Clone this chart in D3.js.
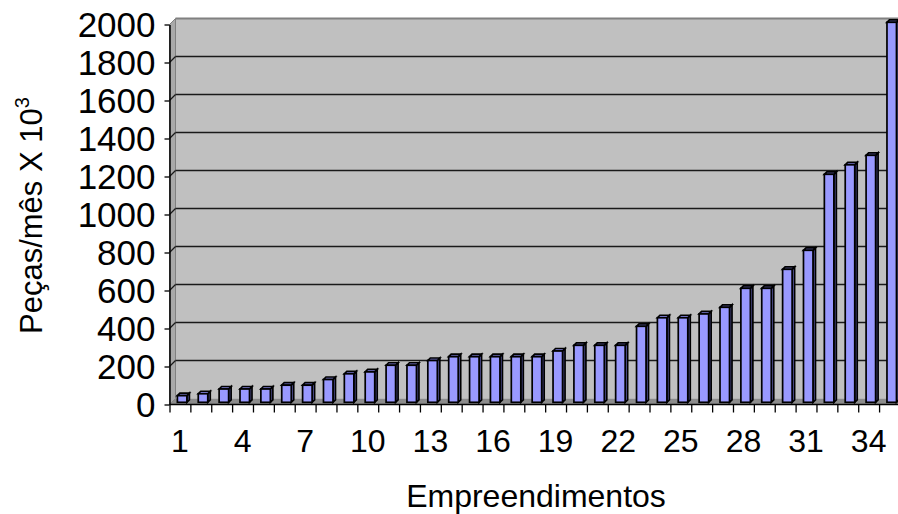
<!DOCTYPE html>
<html>
<head>
<meta charset="utf-8">
<script src="https://cdn.jsdelivr.net/npm/d3@7"></script>
<style>
  body { margin: 0; background: #fff; }
  svg { display: block; }
  text { font-family: "Liberation Sans", Arial, sans-serif; fill: #000; }
</style>
</head>
<body>
<svg id="chart" width="898" height="514"></svg>
<script>
// Monthly output per project (thousands of pieces)
const categories = ["1","2","3","4","5","6","7","8","9","10","11","12","13","14","15","16","17","18",
                    "19","20","21","22","23","24","25","26","27","28","29","30","31","32","33","34","35"];
const values = [35, 45, 70, 70, 70, 90, 90, 120, 150, 160, 195, 195, 220, 240, 240, 240, 240, 240,
                270, 300, 300, 300, 400, 445, 445, 465, 500, 600, 600, 700, 800, 1200, 1250, 1300, 2000];
const yTicks = [0, 200, 400, 600, 800, 1000, 1200, 1400, 1600, 1800, 2000];
const xTickLabels = ["1","4","7","10","13","16","19","22","25","28","31","34"];

(function drawChart() {
  const W = 898;
  const plotLeft = 169.5, plotFloor = 404.5, plotTop = 24.5;
  const step = 20.87;
  const plotRight = plotLeft + categories.length * step;
  const wallD = 6;     // depth of the 3D walls
  const barOff = 2.2;  // bars sit a little behind the front plane
  const barD = 2.5;    // depth of each bar
  const barW = 9.5;

  const svg = d3.select("#chart");

  const x = d3.scaleBand().domain(categories).range([plotLeft, plotRight]).paddingInner(0).paddingOuter(0);
  const y = d3.scaleLinear().domain([0, 2000]).range([plotFloor, plotTop]);
  const xb = d3.scaleLinear().domain([0, categories.length]).range([plotLeft, plotRight]);

  // back wall
  svg.append("rect")
    .attr("x", plotLeft + wallD).attr("y", y(2000) - wallD)
    .attr("width", W - (plotLeft + wallD)).attr("height", plotFloor - plotTop)
    .attr("fill", "#c0c0c0");

  // left wall
  svg.append("polygon")
    .attr("points", [[plotLeft, plotFloor], [plotLeft, y(2000)], [plotLeft + wallD, y(2000) - wallD], [plotLeft + wallD, plotFloor - wallD]].join(" "))
    .attr("fill", "#a9a9a9").attr("stroke", "#808080").attr("stroke-width", 1);

  // floor
  svg.append("polygon")
    .attr("points", [[plotLeft, plotFloor], [plotLeft + wallD, plotFloor - wallD], [W, plotFloor - wallD], [W, plotFloor]].join(" "))
    .attr("fill", "#8c8c8c");

  // top edge of the back wall
  svg.append("line")
    .attr("x1", plotLeft + wallD).attr("x2", W)
    .attr("y1", y(2000) - wallD).attr("y2", y(2000) - wallD)
    .attr("stroke", "#808080").attr("stroke-width", 2);

  // gridlines on the back wall with their connectors across the side wall
  const grid = svg.append("g").attr("stroke", "#1a1a1a").attr("stroke-width", 1.3);
  yTicks.filter(v => v > 0 && v < 2000).forEach(v => {
    grid.append("line")
      .attr("x1", plotLeft + wallD).attr("x2", W)
      .attr("y1", y(v) - wallD).attr("y2", y(v) - wallD);
    grid.append("line")
      .attr("x1", plotLeft).attr("x2", plotLeft + wallD)
      .attr("y1", y(v)).attr("y2", y(v) - wallD);
  });

  // bars
  const bars = svg.append("g").attr("stroke", "#000").attr("stroke-width", 1.7).attr("stroke-linejoin", "miter");
  categories.forEach((c, i) => {
    const v = values[i];
    const x0 = x(c) + x.bandwidth() / 2 - barW / 2 + barOff;
    const x1 = x0 + barW;
    const yT = y(v) - barOff;
    const yB = y(0) - barOff;
    const g = bars.append("g");
    g.append("polygon")
      .attr("points", [[x1, yT], [x1 + barD, yT - barD], [x1 + barD, yB - barD], [x1, yB]].join(" "))
      .attr("fill", "#5c5ca8");
    g.append("polygon")
      .attr("points", [[x0, yT], [x0 + barD, yT - barD], [x1 + barD, yT - barD], [x1, yT]].join(" "))
      .attr("fill", "#7c7cd6");
    g.append("rect")
      .attr("x", x0).attr("y", yT).attr("width", barW).attr("height", yB - yT)
      .attr("fill", "#9999ff");
  });

  // y axis
  const yAxis = svg.append("g")
    .attr("transform", `translate(${plotLeft},0)`)
    .call(d3.axisLeft(y).tickValues(yTicks).tickSize(5).tickSizeOuter(0).tickPadding(9).tickFormat(d3.format("d")));
  yAxis.select(".domain").attr("stroke", "#000").attr("stroke-width", 1.5);
  yAxis.selectAll(".tick line").attr("stroke", "#000").attr("stroke-width", 1.3);
  yAxis.selectAll("text").attr("font-size", 35).attr("dy", "0.35em")
    .style("font-family", '"Liberation Sans", Arial, sans-serif');

  // x axis: ticks at category boundaries
  const xTicksAxis = svg.append("g")
    .attr("transform", `translate(0,${plotFloor})`)
    .call(d3.axisBottom(xb).tickValues(d3.range(0, categories.length + 1)).tickSize(8).tickSizeOuter(0).tickFormat(""));
  xTicksAxis.select(".domain").remove();
  xTicksAxis.selectAll(".tick line").attr("stroke", "#000").attr("stroke-width", 1.3);
  svg.append("line")
    .attr("x1", plotLeft).attr("x2", W).attr("y1", plotFloor).attr("y2", plotFloor)
    .attr("stroke", "#000").attr("stroke-width", 1.5);

  // x axis labels, every third category
  const xLabels = svg.append("g")
    .attr("transform", `translate(0,${plotFloor})`)
    .call(d3.axisBottom(x).tickValues(xTickLabels).tickSize(0).tickPadding(25));
  xLabels.select(".domain").remove();
  xLabels.selectAll("text").attr("font-size", 32)
    .style("font-family", '"Liberation Sans", Arial, sans-serif');

  // axis titles
  svg.append("text")
    .attr("x", 536).attr("y", 507)
    .attr("text-anchor", "middle").attr("font-size", 32)
    .text("Empreendimentos");

  const yTitle = svg.append("text")
    .attr("transform", "translate(42,334) rotate(-90)")
    .attr("text-anchor", "start").attr("font-size", 31);
  yTitle.append("tspan").text("Peças/mês X 10");
  yTitle.append("tspan").attr("font-size", 20).attr("dy", -13).text("3");
})();
</script>
</body>
</html>
